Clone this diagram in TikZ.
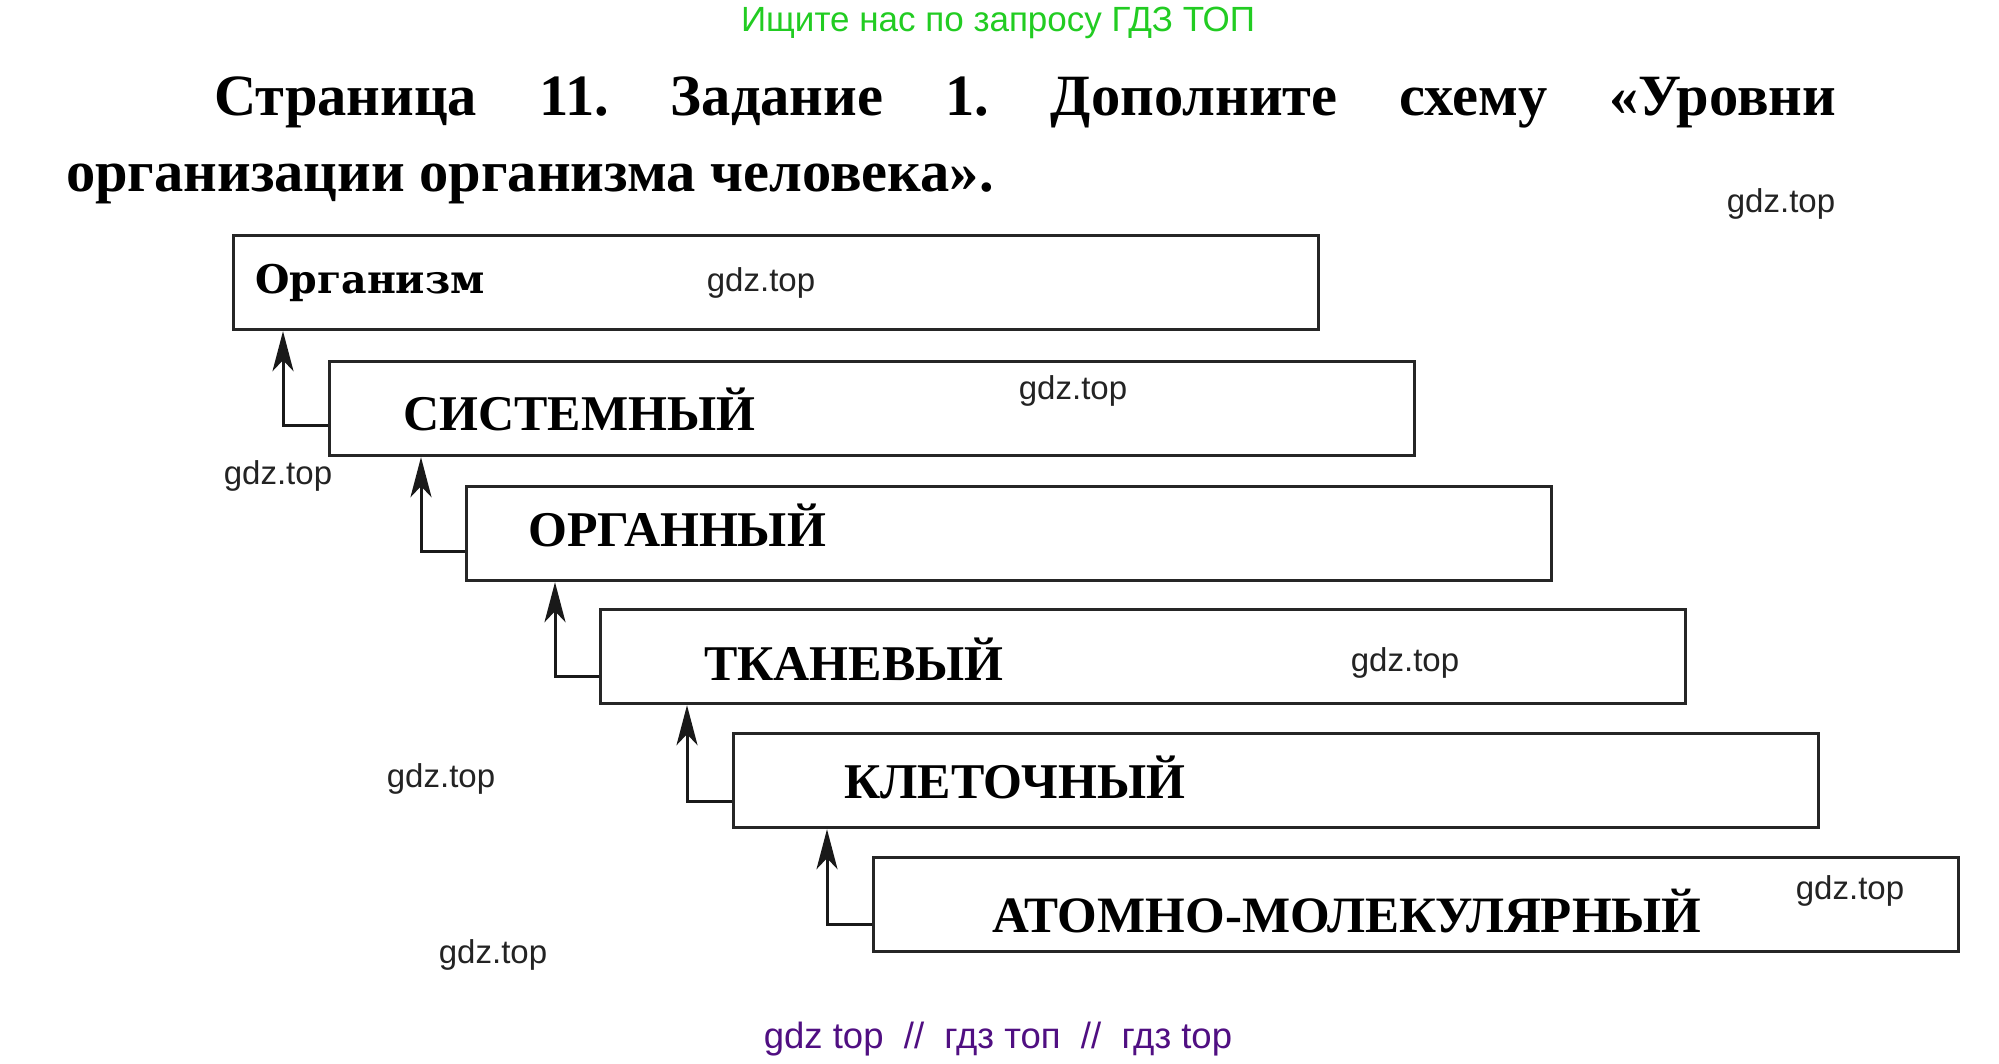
\documentclass[tikz,border=0pt]{standalone}
\usepackage{fontspec}
\setmainfont{Liberation Serif}
\newfontfamily\wmfont{Liberation Sans}
\newfontfamily\orgfont{DejaVu Serif}
\usetikzlibrary{arrows.meta}
\definecolor{wmgreen}{RGB}{34,204,34}
\definecolor{wmpurple}{RGB}{80,15,130}
\definecolor{wmgray}{RGB}{35,35,35}
\tikzset{
 levelbox/.style={draw=black!85, line width=3.2pt, minimum width=1085pt, minimum height=94pt, anchor=north west, inner sep=0pt},
 levellabel/.style={anchor=base west, font=\fontsize{50}{58}\selectfont\bfseries, inner sep=0pt},
 wm/.style={font=\wmfont\fontsize{33}{38}\selectfont, text=wmgray, anchor=center, inner sep=0pt},
 heading/.style={font=\fontsize{58.5}{66}\selectfont\bfseries, anchor=base west, inner sep=0pt},
 conn/.style={draw=black!90, line width=3pt, -{Stealth[length=40pt,width=21pt,inset=11pt]}},
}
\frenchspacing
\begin{document}
\begin{tikzpicture}[x=1pt,y=-1pt]
\useasboundingbox[fill=white] (0,0) rectangle (1999,1063);
% top watermark
\node[font=\wmfont\fontsize{35}{40}\selectfont, text=wmgreen, anchor=base, inner sep=0pt] (wtop) at (998,31) {Ищите нас по запросу ГДЗ ТОП};
% heading
\node[heading] (h1) at (214,115) {\makebox[1622pt][s]{Страница 11. Задание 1. Дополните схему «Уровни}};
\node[heading] (h2) at (66,191) {организации организма человека».};
% boxes
\node[levelbox] (b1) at (232,234) {};
\node[levelbox] (b2) at (328,360) {};
\node[levelbox] (b3) at (465,485) {};
\node[levelbox] (b4) at (599,608) {};
\node[levelbox] (b5) at (732,732) {};
\node[levelbox] (b6) at (872,856) {};
% labels
\node[levellabel, font=\orgfont\fontsize{39.5}{48}\selectfont\bfseries] (l1) at (255,293) {Организм};
\node[levellabel] (l2) at (403,430) {СИСТЕМНЫЙ};
\node[levellabel] (l3) at (528,546) {ОРГАННЫЙ};
\node[levellabel] (l4) at (704,680) {ТКАНЕВЫЙ};
\node[levellabel] (l5) at (844,798) {КЛЕТОЧНЫЙ};
\node[levellabel, font=\fontsize{51}{58}\selectfont\bfseries] (l6) at (992,932) {АТОМНО-МОЛЕКУЛЯРНЫЙ};
% connectors
\coordinate (s2) at (328,425);
\coordinate (s3) at (465,551);
\coordinate (s4) at (599,676);
\coordinate (s5) at (732,801);
\coordinate (s6) at (872,924);
\draw[conn] (s2) -| ([xshift=-45pt]b2.south west |- b1.south);
\draw[conn] (s3) -| ([xshift=-44pt]b3.south west |- b2.south);
\draw[conn] (s4) -| ([xshift=-44pt]b4.south west |- b3.south);
\draw[conn] (s5) -| ([xshift=-45pt]b5.south west |- b4.south);
\draw[conn] (s6) -| ([xshift=-45pt]b6.south west |- b5.south);
% watermarks
\node[wm] (w1) at (1781,204) {gdz.top};
\node[wm] (w2) at (761,283) {gdz.top};
\node[wm] (w3) at (1073,391) {gdz.top};
\node[wm] (w4) at (278,476) {gdz.top};
\node[wm] (w5) at (1405,663) {gdz.top};
\node[wm] (w6) at (441,779) {gdz.top};
\node[wm] (w7) at (1850,891) {gdz.top};
\node[wm] (w8) at (493,955) {gdz.top};
\node[font=\wmfont\fontsize{36.5}{42}\selectfont, text=wmpurple, anchor=center, inner sep=0pt] (wbot) at (998,1039) {gdz top\ \ //\ \ гдз топ\ \ //\ \ гдз top};
\end{tikzpicture}
\end{document}
